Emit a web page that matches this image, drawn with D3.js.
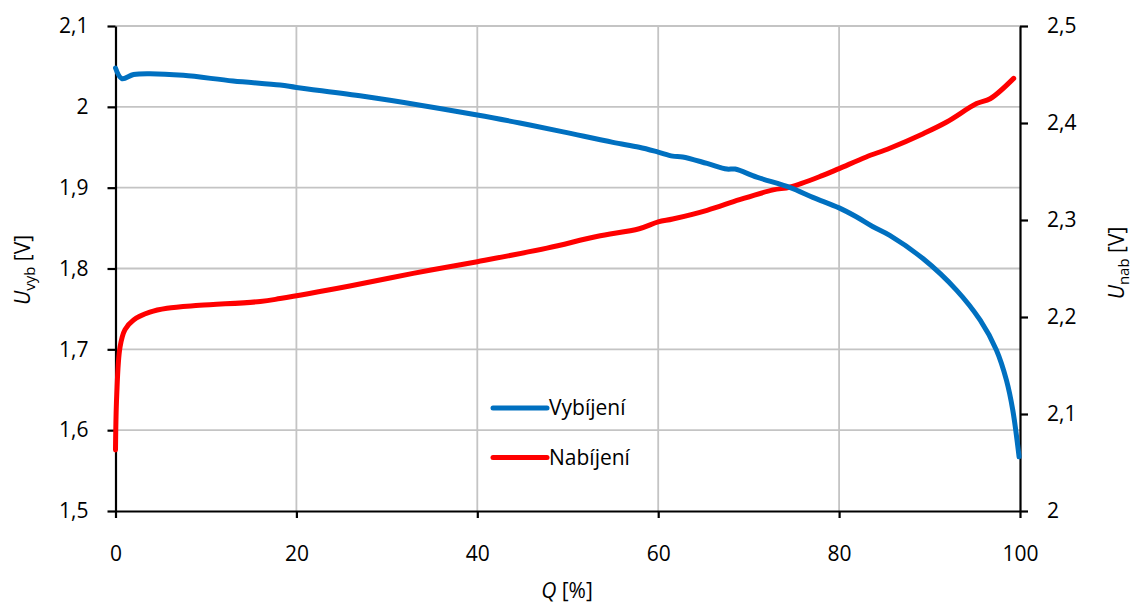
<!DOCTYPE html>
<html>
<head>
<meta charset="utf-8">
<script src="https://cdn.jsdelivr.net/npm/d3@7"></script>
<style>
  body { margin: 0; background: #fff; }
  text { font-family: "Open Sans", "Noto Sans", sans-serif; fill: #000; }
</style>
</head>
<body>
<div id="chart"></div>
<script>
// data
var qVyb = [0, 0.7, 2, 3.8, 7.5, 13, 18.2, 20, 27.4, 33.7, 40, 44.7, 49.5, 55, 57.9, 60, 61.6, 62.7, 65.4, 67.6, 68.5, 70.9, 74.6, 77.1, 80, 81.9, 83.7, 85.6, 89.3, 93, 95.6, 97.4, 98.5, 99.2, 99.9];
var uVyb = [2.048, 2.035, 2.040, 2.041, 2.039, 2.032, 2.027, 2.024, 2.013, 2.002, 1.990, 1.980, 1.969, 1.956, 1.950, 1.944, 1.939, 1.938, 1.930, 1.923, 1.923, 1.913, 1.900, 1.888, 1.875, 1.864, 1.852, 1.841, 1.812, 1.773, 1.736, 1.699, 1.662, 1.625, 1.567];

var qNab = [0, 0.13, 0.5, 1.05, 2, 3.8, 5.7, 9.3, 16, 18.2, 25.9, 32.9, 40, 47.7, 53.2, 57.9, 60, 61.6, 65.4, 69, 72.7, 74.6, 78.2, 80, 83, 85.6, 89.3, 91.9, 95.2, 96.7, 99.3];
var uNab = [2.063, 2.118, 2.169, 2.187, 2.197, 2.205, 2.209, 2.212, 2.216, 2.219, 2.232, 2.245, 2.257, 2.271, 2.283, 2.291, 2.298, 2.301, 2.310, 2.321, 2.331, 2.334, 2.346, 2.353, 2.365, 2.374, 2.389, 2.401, 2.420, 2.425, 2.446];

var xTicks = [0, 20, 40, 60, 80, 100];
var yLeftTicks = [1.5, 1.6, 1.7, 1.8, 1.9, 2.0, 2.1];
var yRightTicks = [2.0, 2.1, 2.2, 2.3, 2.4, 2.5];
var seriesNames = ['Vybíjení', 'Nabíjení'];
var seriesColors = ['#0070c0', '#ff0000'];

var W = 1133, H = 603;
var plotL = 115.5, plotR = 1020, plotT = 26, plotB = 511;

var cz = d3.formatLocale({decimal: ',', thousands: ' ', grouping: [3], currency: ['', ' Kč']});
var fmt = cz.format('~g');

var svg = d3.select('#chart').append('svg')
    .attr('width', W)
    .attr('height', H);

var x = d3.scaleLinear().domain([0, 100]).range([plotL, plotR]);
var yL = d3.scaleLinear().domain([1.5, 2.1]).range([plotB, plotT]);
var yR = d3.scaleLinear().domain([2.0, 2.5]).range([plotB, plotT]);

// grid
svg.append('g').selectAll('line')
    .data(yLeftTicks.slice(1))
    .enter().append('line')
    .attr('x1', plotL).attr('x2', plotR)
    .attr('y1', function(d){ return yL(d); })
    .attr('y2', function(d){ return yL(d); })
    .style('stroke', '#c4c4c4').style('stroke-width', 1.8);

svg.append('g').selectAll('line')
    .data(xTicks.slice(1, -1))
    .enter().append('line')
    .attr('x1', function(d){ return x(d); })
    .attr('x2', function(d){ return x(d); })
    .attr('y1', plotT).attr('y2', plotB)
    .style('stroke', '#c4c4c4').style('stroke-width', 1.8);

// axes
function styleAxis(g){
    g.selectAll('path.domain').style('stroke', '#000').style('stroke-width', 2.2);
    g.selectAll('.tick line').style('stroke', '#000').style('stroke-width', 2.2);
    g.selectAll('.tick text').style('font-size', '21px').style('font-family', '"Open Sans", sans-serif');
}

svg.append('g')
    .attr('transform', 'translate(0,' + plotB + ')')
    .call(d3.axisBottom(x).tickValues(xTicks).tickSize(7).tickSizeOuter(0).tickPadding(28).tickFormat(fmt))
    .call(styleAxis);

svg.append('g')
    .attr('transform', 'translate(' + plotL + ',0)')
    .call(d3.axisLeft(yL).tickValues(yLeftTicks).tickSize(8).tickSizeOuter(0).tickPadding(19).tickFormat(fmt))
    .call(styleAxis);

svg.append('g')
    .attr('transform', 'translate(' + plotR + ',0)')
    .call(d3.axisRight(yR).tickValues(yRightTicks).tickSize(8).tickSizeOuter(0).tickPadding(19).tickFormat(fmt))
    .call(styleAxis);

// lines
var lineL = d3.line()
    .x(function(d){ return x(d[0]); })
    .y(function(d){ return yL(d[1]); })
    .curve(d3.curveCatmullRom.alpha(0.5));
var lineR = d3.line()
    .x(function(d){ return x(d[0]); })
    .y(function(d){ return yR(d[1]); })
    .curve(d3.curveCatmullRom.alpha(0.5));

svg.append('path')
    .datum(d3.zip(qNab, uNab))
    .attr('d', lineR)
    .style('fill', 'none')
    .style('stroke', seriesColors[1])
    .style('stroke-width', 5)
    .style('stroke-linecap', 'round')
    .style('stroke-linejoin', 'round');

svg.append('path')
    .datum(d3.zip(qVyb, uVyb))
    .attr('d', lineL)
    .style('fill', 'none')
    .style('stroke', seriesColors[0])
    .style('stroke-width', 5)
    .style('stroke-linecap', 'round')
    .style('stroke-linejoin', 'round');

// legend
var leg = svg.append('g').selectAll('g')
    .data(seriesNames)
    .enter().append('g')
    .attr('transform', function(d, i){ return 'translate(493,' + (408 + i * 49.5) + ')'; });

leg.append('line')
    .attr('x1', 0).attr('x2', 54)
    .style('stroke', function(d, i){ return seriesColors[i]; })
    .style('stroke-width', 5)
    .style('stroke-linecap', 'round');

leg.append('text')
    .attr('x', 56)
    .attr('dy', '0.35em')
    .style('font-size', '21px')
    .text(function(d){ return d; });

// axis titles
var xt = svg.append('text')
    .attr('x', 567).attr('y', 598)
    .attr('text-anchor', 'middle')
    .style('font-size', '21px');
xt.append('tspan').style('font-style', 'italic').text('Q');
xt.append('tspan').text(' [%]');

function yTitle(cx, cy, sub){
    var t = svg.append('text')
        .attr('transform', 'translate(' + cx + ',' + cy + ') rotate(-90)')
        .attr('text-anchor', 'middle')
        .style('font-size', '21px');
    t.append('tspan').style('font-style', 'italic').text('U');
    t.append('tspan').attr('dy', 5).style('font-size', '15px').text(sub);
    t.append('tspan').attr('dy', -5).text(' [V]');
}
yTitle(30, 270, 'vyb');
yTitle(1124, 263, 'nab');
</script>
</body>
</html>
